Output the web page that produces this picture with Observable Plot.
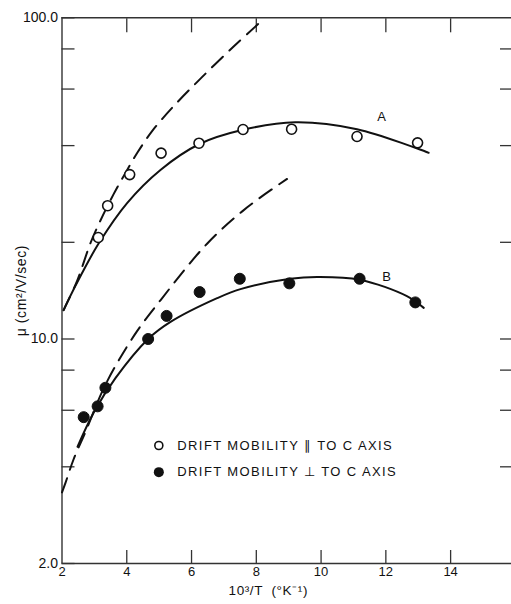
<!DOCTYPE html>
<html><head><meta charset="utf-8">
<script src="https://cdn.jsdelivr.net/npm/d3@7"></script>
<script src="https://cdn.jsdelivr.net/npm/@observablehq/plot@0.6"></script>
<style>
body{margin:0;background:#fff}
.legend-text text{letter-spacing:1.4px}
.title-text text{letter-spacing:0.6px}
</style>
</head><body><div id="chart"></div>
<script>
// ---- data ----
const parallelX  = [3.12, 3.41, 4.09, 5.06, 6.23, 7.59, 9.09, 11.11, 12.98];
const parallelMu = [20.7, 26.0, 32.5, 37.9, 40.7, 44.9, 45.0, 42.7, 40.8];
const perpX  = [2.67, 3.10, 3.34, 4.66, 5.23, 6.25, 7.49, 9.02, 11.19, 12.91];
const perpMu = [5.71, 6.17, 7.05, 10.0, 11.8, 14.0, 15.4, 14.9, 15.4, 13.0];

const fitAX  = [2.05, 2.16, 2.6, 3.14, 4.01, 5.04, 6.23, 7.59, 9.2, 11.11, 13.32];
const fitAMu = [12.3, 13.0, 15.9, 19.9, 26.5, 33.6, 40.4, 44.8, 47.3, 45.0, 38.0];
const dashAX  = [2.05, 2.47, 2.88, 3.18, 3.59, 3.96, 4.34, 4.80, 5.42, 6.3, 7.30, 8.18];
const dashAMu = [12.3, 15.2, 19.9, 23.3, 28.2, 32.9, 38.2, 44.6, 52.7, 65.0, 81.4, 98.1];

const fitBX  = [2.48, 2.98, 3.65, 4.66, 5.35, 6.79, 7.51, 9.05, 9.88, 11.19, 12.65, 13.17];
const fitBMu = [4.62, 5.9, 7.55, 10.0, 11.3, 13.4, 14.3, 15.4, 15.6, 15.3, 13.6, 12.5];
const dashBX  = [2.0, 2.11, 2.35, 2.73, 3.34, 4.24, 5.04, 6.48, 7.72, 8.95];
const dashBMu = [3.33, 3.57, 4.2, 5.15, 7.2, 10.3, 13.2, 19.8, 25.7, 31.5];

const yTicks = [2, 4, 6, 8, 10, 20, 40, 60, 80, 100];
const yLabelTicks = [2, 10, 100];
const xTicks = [4, 6, 8, 10, 12, 14];
const xLabelTicks = [2, 4, 6, 8, 10, 12, 14];
const curveLabels = ["A", "B"];
const legendLabels = ["DRIFT MOBILITY \u2225 TO C AXIS", "DRIFT MOBILITY \u22A5 TO C AXIS"];
const yTitle = "\u03BC (cm\u00B2/V/sec)";
const xTitle = "10\u00B3/T  (\u00B0K\u207B\u00B9)";

const pts = (xs, ys) => xs.map((x, i) => ({x, y: ys[i]}));

const axisColor = "#333";
const font = "'Liberation Sans', Arial, sans-serif";

const chart = Plot.plot({
  width: 511, height: 604,
  marginLeft: 61.5, marginRight: 0, marginTop: 17.3, marginBottom: 41,
  x: {domain: [2, 15.88]},
  y: {type: "log", domain: [2, 100]},
  style: {fontFamily: font, background: "white", color: "#111"},
  marks: [
    // frame lines
    Plot.ruleX([2], {stroke: axisColor, strokeWidth: 1.4}),
    Plot.ruleY([2, 100], {stroke: axisColor, strokeWidth: 1.4}),
    // inward ticks
    Plot.axisY({anchor: "left", ticks: yTicks, tickSize: -13, tickFormat: () => "", label: null, stroke: axisColor, strokeWidth: 1.3}),
    Plot.axisY({anchor: "right", ticks: yTicks.filter(d => d > 2 && d < 100), tickSize: -12, tickFormat: () => "", label: null, stroke: axisColor, strokeWidth: 1.3}),
    Plot.axisX({anchor: "bottom", ticks: xTicks, tickSize: -13, tickFormat: () => "", label: null, stroke: axisColor, strokeWidth: 1.3}),
    Plot.axisX({anchor: "top", ticks: xTicks, tickSize: -14, tickFormat: () => "", label: null, stroke: axisColor, strokeWidth: 1.3}),
    // tick labels
    Plot.axisY({anchor: "left", ticks: yLabelTicks, tickSize: 0, tickPadding: 4, tickFormat: d => d.toFixed(1), label: null, fontSize: 14}),
    Plot.axisX({anchor: "bottom", ticks: xLabelTicks, tickSize: 0, tickPadding: 3, label: null, fontSize: 13}),
    // axis titles
    Plot.text([yTitle], {frameAnchor: "left", textAnchor: "middle", dx: -40, dy: 0, rotate: -90, fontSize: 14, text: d => d, className: "title-text"}),
    Plot.text([xTitle], {x: 8.37, frameAnchor: "bottom", dy: 31, fontSize: 13.5, text: d => d, className: "title-text"}),
    // curves
    Plot.line(pts(fitAX, fitAMu), {x: "x", y: "y", curve: "catmull-rom", stroke: "#111", strokeWidth: 2}),
    Plot.line(pts(dashAX, dashAMu), {x: "x", y: "y", curve: "catmull-rom", stroke: "#111", strokeWidth: 2, strokeDasharray: "15,9"}),
    Plot.line(pts(fitBX, fitBMu), {x: "x", y: "y", curve: "catmull-rom", stroke: "#111", strokeWidth: 2}),
    Plot.line(pts(dashBX, dashBMu), {x: "x", y: "y", curve: "catmull-rom", stroke: "#111", strokeWidth: 2, strokeDasharray: "15,9"}),
    // data points
    Plot.dot(pts(parallelX, parallelMu), {x: "x", y: "y", r: 5, stroke: "#111", fill: "white", strokeWidth: 1.6}),
    Plot.dot(pts(perpX, perpMu), {x: "x", y: "y", r: 5.5, stroke: "#111", fill: "#111", strokeWidth: 1}),
    // curve labels
    Plot.text(curveLabels, {x: [11.87, 12.02], y: [49.0, 15.6], text: d => d, fontSize: 13}),
    // legend
    Plot.dot([0], {x: [4.99], y: [4.66], r: 4, stroke: "#111", fill: "white", strokeWidth: 1.6}),
    Plot.dot([0], {x: [4.99], y: [3.85], r: 5, fill: "#111"}),
    Plot.text(legendLabels, {x: [5.56, 5.56], y: [4.66, 3.85], text: d => d, textAnchor: "start", fontSize: 13, className: "legend-text"})
  ]
});
document.getElementById("chart").appendChild(chart);
</script>
</body></html>
